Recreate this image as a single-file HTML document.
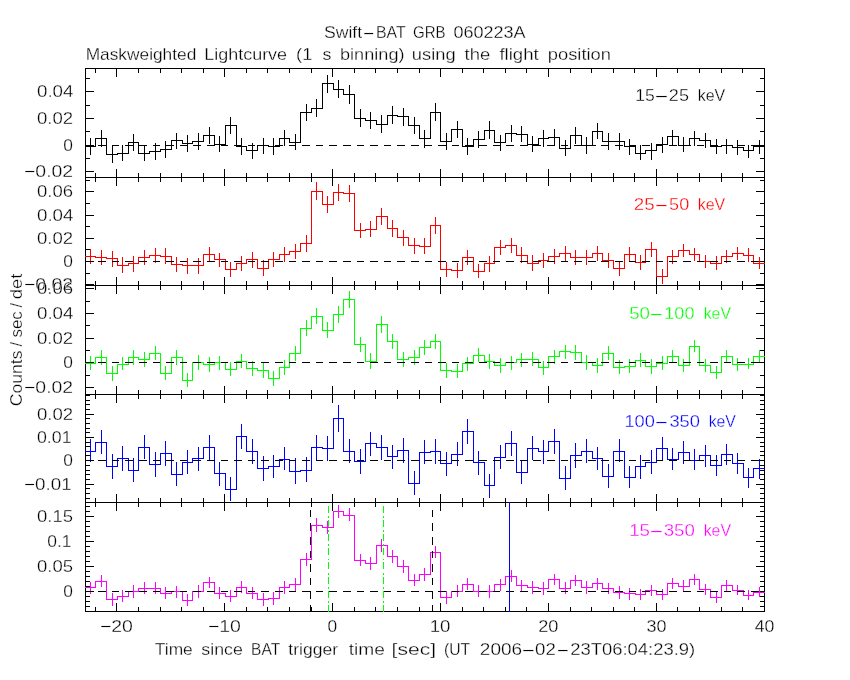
<!DOCTYPE html>
<html><head><meta charset="utf-8"><title>Swift-BAT GRB 060223A</title>
<style>
html,body{margin:0;padding:0;background:#fff;overflow:hidden;}
svg{display:block;}
text{font-family:'Liberation Sans', Arial, sans-serif;font-weight:400;stroke:#fff;stroke-width:0.3px;}
</style></head>
<body>
<svg width="850" height="680" viewBox="0 0 850 680" shape-rendering="crispEdges">
<rect x="0" y="0" width="850" height="680" fill="#fff"/>
<path fill="#000000" d="M85 68h1v544h-1zM764 68h1v544h-1zM85 68h680v1h-680zM85 177h680v1h-680zM85 285h680v1h-680zM85 394h680v1h-680zM85 502h680v1h-680zM85 611h680v1h-680zM95 69h1v4h-1zM95 173h1v4h-1zM116 69h1v8h-1zM116 169h1v8h-1zM138 69h1v4h-1zM138 173h1v4h-1zM160 69h1v4h-1zM160 173h1v4h-1zM181 69h1v4h-1zM181 173h1v4h-1zM203 69h1v4h-1zM203 173h1v4h-1zM224 69h1v8h-1zM224 169h1v8h-1zM246 69h1v4h-1zM246 173h1v4h-1zM267 69h1v4h-1zM267 173h1v4h-1zM289 69h1v4h-1zM289 173h1v4h-1zM311 69h1v4h-1zM311 173h1v4h-1zM332 69h1v8h-1zM332 169h1v8h-1zM354 69h1v4h-1zM354 173h1v4h-1zM375 69h1v4h-1zM375 173h1v4h-1zM397 69h1v4h-1zM397 173h1v4h-1zM419 69h1v4h-1zM419 173h1v4h-1zM440 69h1v8h-1zM440 169h1v8h-1zM462 69h1v4h-1zM462 173h1v4h-1zM483 69h1v4h-1zM483 173h1v4h-1zM505 69h1v4h-1zM505 173h1v4h-1zM526 69h1v4h-1zM526 173h1v4h-1zM548 69h1v8h-1zM548 169h1v8h-1zM570 69h1v4h-1zM570 173h1v4h-1zM591 69h1v4h-1zM591 173h1v4h-1zM613 69h1v4h-1zM613 173h1v4h-1zM634 69h1v4h-1zM634 173h1v4h-1zM656 69h1v8h-1zM656 169h1v8h-1zM677 69h1v4h-1zM677 173h1v4h-1zM699 69h1v4h-1zM699 173h1v4h-1zM721 69h1v4h-1zM721 173h1v4h-1zM742 69h1v4h-1zM742 173h1v4h-1zM95 178h1v4h-1zM95 281h1v4h-1zM116 178h1v8h-1zM116 277h1v8h-1zM138 178h1v4h-1zM138 281h1v4h-1zM160 178h1v4h-1zM160 281h1v4h-1zM181 178h1v4h-1zM181 281h1v4h-1zM203 178h1v4h-1zM203 281h1v4h-1zM224 178h1v8h-1zM224 277h1v8h-1zM246 178h1v4h-1zM246 281h1v4h-1zM267 178h1v4h-1zM267 281h1v4h-1zM289 178h1v4h-1zM289 281h1v4h-1zM311 178h1v4h-1zM311 281h1v4h-1zM332 178h1v8h-1zM332 277h1v8h-1zM354 178h1v4h-1zM354 281h1v4h-1zM375 178h1v4h-1zM375 281h1v4h-1zM397 178h1v4h-1zM397 281h1v4h-1zM419 178h1v4h-1zM419 281h1v4h-1zM440 178h1v8h-1zM440 277h1v8h-1zM462 178h1v4h-1zM462 281h1v4h-1zM483 178h1v4h-1zM483 281h1v4h-1zM505 178h1v4h-1zM505 281h1v4h-1zM526 178h1v4h-1zM526 281h1v4h-1zM548 178h1v8h-1zM548 277h1v8h-1zM570 178h1v4h-1zM570 281h1v4h-1zM591 178h1v4h-1zM591 281h1v4h-1zM613 178h1v4h-1zM613 281h1v4h-1zM634 178h1v4h-1zM634 281h1v4h-1zM656 178h1v8h-1zM656 277h1v8h-1zM677 178h1v4h-1zM677 281h1v4h-1zM699 178h1v4h-1zM699 281h1v4h-1zM721 178h1v4h-1zM721 281h1v4h-1zM742 178h1v4h-1zM742 281h1v4h-1zM95 286h1v4h-1zM95 390h1v4h-1zM116 286h1v8h-1zM116 386h1v8h-1zM138 286h1v4h-1zM138 390h1v4h-1zM160 286h1v4h-1zM160 390h1v4h-1zM181 286h1v4h-1zM181 390h1v4h-1zM203 286h1v4h-1zM203 390h1v4h-1zM224 286h1v8h-1zM224 386h1v8h-1zM246 286h1v4h-1zM246 390h1v4h-1zM267 286h1v4h-1zM267 390h1v4h-1zM289 286h1v4h-1zM289 390h1v4h-1zM311 286h1v4h-1zM311 390h1v4h-1zM332 286h1v8h-1zM332 386h1v8h-1zM354 286h1v4h-1zM354 390h1v4h-1zM375 286h1v4h-1zM375 390h1v4h-1zM397 286h1v4h-1zM397 390h1v4h-1zM419 286h1v4h-1zM419 390h1v4h-1zM440 286h1v8h-1zM440 386h1v8h-1zM462 286h1v4h-1zM462 390h1v4h-1zM483 286h1v4h-1zM483 390h1v4h-1zM505 286h1v4h-1zM505 390h1v4h-1zM526 286h1v4h-1zM526 390h1v4h-1zM548 286h1v8h-1zM548 386h1v8h-1zM570 286h1v4h-1zM570 390h1v4h-1zM591 286h1v4h-1zM591 390h1v4h-1zM613 286h1v4h-1zM613 390h1v4h-1zM634 286h1v4h-1zM634 390h1v4h-1zM656 286h1v8h-1zM656 386h1v8h-1zM677 286h1v4h-1zM677 390h1v4h-1zM699 286h1v4h-1zM699 390h1v4h-1zM721 286h1v4h-1zM721 390h1v4h-1zM742 286h1v4h-1zM742 390h1v4h-1zM95 395h1v4h-1zM95 498h1v4h-1zM116 395h1v8h-1zM116 494h1v8h-1zM138 395h1v4h-1zM138 498h1v4h-1zM160 395h1v4h-1zM160 498h1v4h-1zM181 395h1v4h-1zM181 498h1v4h-1zM203 395h1v4h-1zM203 498h1v4h-1zM224 395h1v8h-1zM224 494h1v8h-1zM246 395h1v4h-1zM246 498h1v4h-1zM267 395h1v4h-1zM267 498h1v4h-1zM289 395h1v4h-1zM289 498h1v4h-1zM311 395h1v4h-1zM311 498h1v4h-1zM332 395h1v8h-1zM332 494h1v8h-1zM354 395h1v4h-1zM354 498h1v4h-1zM375 395h1v4h-1zM375 498h1v4h-1zM397 395h1v4h-1zM397 498h1v4h-1zM419 395h1v4h-1zM419 498h1v4h-1zM440 395h1v8h-1zM440 494h1v8h-1zM462 395h1v4h-1zM462 498h1v4h-1zM483 395h1v4h-1zM483 498h1v4h-1zM505 395h1v4h-1zM505 498h1v4h-1zM526 395h1v4h-1zM526 498h1v4h-1zM548 395h1v8h-1zM548 494h1v8h-1zM570 395h1v4h-1zM570 498h1v4h-1zM591 395h1v4h-1zM591 498h1v4h-1zM613 395h1v4h-1zM613 498h1v4h-1zM634 395h1v4h-1zM634 498h1v4h-1zM656 395h1v8h-1zM656 494h1v8h-1zM677 395h1v4h-1zM677 498h1v4h-1zM699 395h1v4h-1zM699 498h1v4h-1zM721 395h1v4h-1zM721 498h1v4h-1zM742 395h1v4h-1zM742 498h1v4h-1zM95 503h1v4h-1zM95 607h1v4h-1zM116 503h1v8h-1zM116 603h1v8h-1zM138 503h1v4h-1zM138 607h1v4h-1zM160 503h1v4h-1zM160 607h1v4h-1zM181 503h1v4h-1zM181 607h1v4h-1zM203 503h1v4h-1zM203 607h1v4h-1zM224 503h1v8h-1zM224 603h1v8h-1zM246 503h1v4h-1zM246 607h1v4h-1zM267 503h1v4h-1zM267 607h1v4h-1zM289 503h1v4h-1zM289 607h1v4h-1zM311 503h1v4h-1zM311 607h1v4h-1zM332 503h1v8h-1zM332 603h1v8h-1zM354 503h1v4h-1zM354 607h1v4h-1zM375 503h1v4h-1zM375 607h1v4h-1zM397 503h1v4h-1zM397 607h1v4h-1zM419 503h1v4h-1zM419 607h1v4h-1zM440 503h1v8h-1zM440 603h1v8h-1zM462 503h1v4h-1zM462 607h1v4h-1zM483 503h1v4h-1zM483 607h1v4h-1zM505 503h1v4h-1zM505 607h1v4h-1zM526 503h1v4h-1zM526 607h1v4h-1zM548 503h1v8h-1zM548 603h1v8h-1zM570 503h1v4h-1zM570 607h1v4h-1zM591 503h1v4h-1zM591 607h1v4h-1zM613 503h1v4h-1zM613 607h1v4h-1zM634 503h1v4h-1zM634 607h1v4h-1zM656 503h1v8h-1zM656 603h1v8h-1zM677 503h1v4h-1zM677 607h1v4h-1zM699 503h1v4h-1zM699 607h1v4h-1zM721 503h1v4h-1zM721 607h1v4h-1zM742 503h1v4h-1zM742 607h1v4h-1zM86 171h8v1h-8zM756 171h8v1h-8zM86 158h4v1h-4zM760 158h4v1h-4zM86 145h8v1h-8zM756 145h8v1h-8zM86 131h4v1h-4zM760 131h4v1h-4zM86 118h8v1h-8zM756 118h8v1h-8zM86 105h4v1h-4zM760 105h4v1h-4zM86 91h8v1h-8zM756 91h8v1h-8zM86 78h4v1h-4zM760 78h4v1h-4zM86 284h8v1h-8zM756 284h8v1h-8zM86 273h4v1h-4zM760 273h4v1h-4zM86 261h8v1h-8zM756 261h8v1h-8zM86 249h4v1h-4zM760 249h4v1h-4zM86 238h8v1h-8zM756 238h8v1h-8zM86 226h4v1h-4zM760 226h4v1h-4zM86 215h8v1h-8zM756 215h8v1h-8zM86 203h4v1h-4zM760 203h4v1h-4zM86 191h8v1h-8zM756 191h8v1h-8zM86 180h4v1h-4zM760 180h4v1h-4zM86 387h8v1h-8zM756 387h8v1h-8zM86 375h4v1h-4zM760 375h4v1h-4zM86 362h8v1h-8zM756 362h8v1h-8zM86 350h4v1h-4zM760 350h4v1h-4zM86 338h8v1h-8zM756 338h8v1h-8zM86 325h4v1h-4zM760 325h4v1h-4zM86 313h8v1h-8zM756 313h8v1h-8zM86 301h4v1h-4zM760 301h4v1h-4zM86 288h8v1h-8zM756 288h8v1h-8zM86 498h4v1h-4zM760 498h4v1h-4zM86 493h4v1h-4zM760 493h4v1h-4zM86 488h4v1h-4zM760 488h4v1h-4zM86 484h8v1h-8zM756 484h8v1h-8zM86 479h4v1h-4zM760 479h4v1h-4zM86 474h4v1h-4zM760 474h4v1h-4zM86 470h4v1h-4zM760 470h4v1h-4zM86 465h4v1h-4zM760 465h4v1h-4zM86 460h8v1h-8zM756 460h8v1h-8zM86 455h4v1h-4zM760 455h4v1h-4zM86 451h4v1h-4zM760 451h4v1h-4zM86 446h4v1h-4zM760 446h4v1h-4zM86 442h4v1h-4zM760 442h4v1h-4zM86 437h8v1h-8zM756 437h8v1h-8zM86 432h4v1h-4zM760 432h4v1h-4zM86 428h4v1h-4zM760 428h4v1h-4zM86 423h4v1h-4zM760 423h4v1h-4zM86 418h4v1h-4zM760 418h4v1h-4zM86 414h8v1h-8zM756 414h8v1h-8zM86 409h4v1h-4zM760 409h4v1h-4zM86 404h4v1h-4zM760 404h4v1h-4zM86 400h4v1h-4zM760 400h4v1h-4zM86 395h4v1h-4zM760 395h4v1h-4zM86 606h4v1h-4zM760 606h4v1h-4zM86 601h4v1h-4zM760 601h4v1h-4zM86 596h4v1h-4zM760 596h4v1h-4zM86 591h8v1h-8zM756 591h8v1h-8zM86 586h4v1h-4zM760 586h4v1h-4zM86 581h4v1h-4zM760 581h4v1h-4zM86 576h4v1h-4zM760 576h4v1h-4zM86 571h4v1h-4zM760 571h4v1h-4zM86 566h8v1h-8zM756 566h8v1h-8zM86 561h4v1h-4zM760 561h4v1h-4zM86 556h4v1h-4zM760 556h4v1h-4zM86 551h4v1h-4zM760 551h4v1h-4zM86 546h4v1h-4zM760 546h4v1h-4zM86 541h8v1h-8zM756 541h8v1h-8zM86 536h4v1h-4zM760 536h4v1h-4zM86 531h4v1h-4zM760 531h4v1h-4zM86 526h4v1h-4zM760 526h4v1h-4zM86 521h4v1h-4zM760 521h4v1h-4zM86 516h8v1h-8zM756 516h8v1h-8zM86 511h4v1h-4zM760 511h4v1h-4zM86 506h4v1h-4zM760 506h4v1h-4z"/>
<path fill="#000000" d="M85 146h11v1h-11zM95 138h1v9h-1zM90 138h1v17h-1zM95 138h12v1h-12zM106 138h1v17h-1zM101 130h1v17h-1zM106 154h12v1h-12zM117 153h1v2h-1zM112 146h1v17h-1zM117 153h12v1h-12zM128 142h1v12h-1zM122 145h1v16h-1zM128 142h11v1h-11zM138 142h1v12h-1zM133 134h1v17h-1zM138 153h12v1h-12zM149 151h1v3h-1zM144 146h1v15h-1zM149 151h12v1h-12zM160 149h1v3h-1zM155 143h1v17h-1zM160 149h12v1h-12zM171 140h1v10h-1zM165 141h1v17h-1zM171 140h12v1h-12zM182 140h1v4h-1zM176 133h1v16h-1zM182 143h11v1h-11zM192 141h1v3h-1zM187 135h1v17h-1zM192 141h12v1h-12zM203 135h1v7h-1zM198 133h1v17h-1zM203 135h12v1h-12zM214 135h1v10h-1zM209 127h1v17h-1zM214 144h12v1h-12zM225 125h1v20h-1zM219 136h1v16h-1zM225 125h12v1h-12zM236 125h1v22h-1zM230 117h1v17h-1zM236 146h11v1h-11zM246 146h1v5h-1zM241 138h1v17h-1zM246 150h12v1h-12zM257 145h1v6h-1zM252 143h1v16h-1zM257 145h12v1h-12zM268 145h1v2h-1zM263 138h1v16h-1zM268 146h12v1h-12zM279 138h1v9h-1zM273 138h1v17h-1zM279 138h11v1h-11zM289 138h1v5h-1zM284 130h1v16h-1zM289 142h12v1h-12zM300 112h1v31h-1zM295 134h1v16h-1zM300 112h12v1h-12zM311 108h1v5h-1zM306 104h1v17h-1zM311 108h12v1h-12zM322 83h1v26h-1zM316 99h1v18h-1zM322 83h12v1h-12zM333 83h1v7h-1zM327 75h1v18h-1zM333 89h11v1h-11zM343 89h1v6h-1zM338 80h1v18h-1zM343 94h12v1h-12zM354 94h1v25h-1zM349 85h1v19h-1zM354 118h12v1h-12zM365 118h1v3h-1zM360 109h1v18h-1zM365 120h12v1h-12zM376 120h1v5h-1zM370 112h1v17h-1zM376 124h12v1h-12zM387 115h1v10h-1zM381 115h1v18h-1zM387 115h11v1h-11zM397 115h1v2h-1zM392 106h1v18h-1zM397 116h12v1h-12zM408 116h1v10h-1zM403 108h1v18h-1zM408 125h12v1h-12zM419 125h1v14h-1zM414 117h1v17h-1zM419 138h12v1h-12zM430 112h1v27h-1zM424 130h1v18h-1zM430 112h11v1h-11zM440 112h1v30h-1zM435 103h1v18h-1zM440 141h12v1h-12zM451 129h1v13h-1zM446 133h1v17h-1zM451 129h12v1h-12zM462 129h1v18h-1zM457 121h1v17h-1zM462 146h12v1h-12zM473 139h1v8h-1zM467 138h1v17h-1zM473 139h12v1h-12zM484 130h1v10h-1zM478 131h1v17h-1zM484 130h11v1h-11zM494 130h1v13h-1zM489 121h1v18h-1zM494 142h12v1h-12zM505 133h1v10h-1zM500 135h1v16h-1zM505 133h12v1h-12zM516 133h1v2h-1zM511 125h1v17h-1zM516 134h12v1h-12zM527 134h1v11h-1zM521 126h1v16h-1zM527 144h12v1h-12zM538 138h1v7h-1zM532 136h1v16h-1zM538 138h11v1h-11zM548 137h1v2h-1zM543 130h1v17h-1zM548 137h12v1h-12zM559 137h1v12h-1zM554 129h1v16h-1zM559 148h12v1h-12zM570 135h1v14h-1zM565 140h1v16h-1zM570 135h12v1h-12zM581 135h1v11h-1zM575 127h1v17h-1zM581 145h12v1h-12zM592 131h1v15h-1zM586 137h1v17h-1zM592 131h11v1h-11zM602 131h1v11h-1zM597 123h1v16h-1zM602 141h12v1h-12zM613 141h1v1h-1zM608 133h1v17h-1zM613 141h12v1h-12zM624 141h1v6h-1zM619 133h1v17h-1zM624 146h12v1h-12zM635 146h1v8h-1zM629 139h1v16h-1zM635 153h11v1h-11zM645 150h1v4h-1zM640 145h1v15h-1zM645 150h12v1h-12zM656 144h1v7h-1zM651 143h1v17h-1zM656 144h12v1h-12zM667 136h1v9h-1zM662 137h1v16h-1zM667 136h12v1h-12zM678 136h1v10h-1zM672 130h1v15h-1zM678 145h12v1h-12zM689 138h1v8h-1zM683 137h1v15h-1zM689 138h11v1h-11zM699 138h1v3h-1zM694 131h1v15h-1zM699 140h12v1h-12zM710 140h1v7h-1zM705 133h1v15h-1zM710 146h12v1h-12zM721 145h1v2h-1zM716 139h1v15h-1zM721 145h12v1h-12zM732 145h1v3h-1zM726 139h1v15h-1zM732 147h12v1h-12zM743 147h1v4h-1zM737 140h1v15h-1zM743 150h11v1h-11zM753 146h1v5h-1zM748 145h1v13h-1zM753 146h12v1h-12zM759 140h1v14h-1z"/>
<path fill="#ff0000" d="M85 256h11v1h-11zM95 256h1v2h-1zM90 249h1v15h-1zM95 257h12v1h-12zM106 257h1v2h-1zM101 250h1v15h-1zM106 258h12v1h-12zM117 258h1v8h-1zM112 251h1v16h-1zM117 265h12v1h-12zM128 263h1v3h-1zM122 257h1v16h-1zM128 263h11v1h-11zM138 257h1v7h-1zM133 256h1v16h-1zM138 257h12v1h-12zM149 255h1v3h-1zM144 250h1v15h-1zM149 255h12v1h-12zM160 255h1v2h-1zM155 248h1v15h-1zM160 256h12v1h-12zM171 256h1v9h-1zM165 248h1v16h-1zM171 264h12v1h-12zM182 264h1v2h-1zM176 257h1v15h-1zM182 265h11v1h-11zM192 265h1v1h-1zM187 258h1v16h-1zM192 265h12v1h-12zM203 254h1v12h-1zM198 258h1v16h-1zM203 254h12v1h-12zM214 254h1v6h-1zM209 247h1v14h-1zM214 259h12v1h-12zM225 259h1v11h-1zM219 253h1v14h-1zM225 269h12v1h-12zM236 263h1v7h-1zM230 262h1v15h-1zM236 263h11v1h-11zM246 259h1v5h-1zM241 256h1v15h-1zM246 259h12v1h-12zM257 259h1v10h-1zM252 252h1v16h-1zM257 268h12v1h-12zM268 259h1v10h-1zM263 260h1v16h-1zM268 259h12v1h-12zM279 254h1v6h-1zM273 252h1v15h-1zM279 254h11v1h-11zM289 251h1v4h-1zM284 247h1v15h-1zM289 251h12v1h-12zM300 243h1v9h-1zM295 244h1v15h-1zM300 243h12v1h-12zM311 191h1v53h-1zM306 235h1v17h-1zM311 191h12v1h-12zM322 191h1v14h-1zM316 182h1v18h-1zM322 204h12v1h-12zM333 192h1v13h-1zM327 196h1v17h-1zM333 192h11v1h-11zM343 192h1v2h-1zM338 184h1v17h-1zM343 193h12v1h-12zM354 193h1v38h-1zM349 185h1v17h-1zM354 230h12v1h-12zM365 229h1v2h-1zM360 223h1v15h-1zM365 229h12v1h-12zM376 216h1v14h-1zM370 221h1v16h-1zM376 216h12v1h-12zM387 216h1v13h-1zM381 208h1v17h-1zM387 228h11v1h-11zM397 228h1v10h-1zM392 220h1v17h-1zM397 237h12v1h-12zM408 237h1v9h-1zM403 230h1v16h-1zM408 245h12v1h-12zM419 245h1v2h-1zM414 238h1v16h-1zM419 246h12v1h-12zM430 225h1v22h-1zM424 238h1v16h-1zM430 225h11v1h-11zM440 225h1v45h-1zM435 217h1v17h-1zM440 269h12v1h-12zM451 269h1v2h-1zM446 262h1v15h-1zM451 270h12v1h-12zM462 257h1v14h-1zM457 263h1v15h-1zM462 257h12v1h-12zM473 257h1v15h-1zM467 250h1v15h-1zM473 271h12v1h-12zM484 263h1v9h-1zM478 264h1v14h-1zM484 263h11v1h-11zM494 247h1v17h-1zM489 256h1v16h-1zM494 247h12v1h-12zM505 245h1v3h-1zM500 240h1v15h-1zM505 245h12v1h-12zM516 245h1v11h-1zM511 238h1v15h-1zM516 255h12v1h-12zM527 255h1v9h-1zM521 247h1v16h-1zM527 263h12v1h-12zM538 260h1v4h-1zM532 255h1v16h-1zM538 260h11v1h-11zM548 256h1v5h-1zM543 253h1v15h-1zM548 256h12v1h-12zM559 253h1v4h-1zM554 249h1v15h-1zM559 253h12v1h-12zM570 253h1v5h-1zM565 246h1v15h-1zM570 257h12v1h-12zM581 257h1v1h-1zM575 250h1v15h-1zM581 257h12v1h-12zM592 253h1v5h-1zM586 250h1v15h-1zM592 253h11v1h-11zM602 253h1v8h-1zM597 246h1v15h-1zM602 260h12v1h-12zM613 260h1v9h-1zM608 253h1v15h-1zM613 268h12v1h-12zM624 254h1v15h-1zM619 262h1v14h-1zM624 254h12v1h-12zM635 254h1v9h-1zM629 247h1v14h-1zM635 262h11v1h-11zM645 249h1v14h-1zM640 255h1v15h-1zM645 249h12v1h-12zM656 249h1v28h-1zM651 242h1v15h-1zM656 276h12v1h-12zM667 256h1v21h-1zM662 269h1v15h-1zM667 256h12v1h-12zM678 250h1v7h-1zM672 250h1v14h-1zM678 250h12v1h-12zM689 250h1v5h-1zM683 244h1v13h-1zM689 254h11v1h-11zM699 254h1v8h-1zM694 248h1v13h-1zM699 261h12v1h-12zM710 261h1v3h-1zM705 255h1v13h-1zM710 263h12v1h-12zM721 256h1v8h-1zM716 256h1v14h-1zM721 256h12v1h-12zM732 253h1v4h-1zM726 250h1v13h-1zM732 253h12v1h-12zM743 253h1v3h-1zM737 247h1v13h-1zM743 255h11v1h-11zM753 255h1v9h-1zM748 248h1v14h-1zM753 263h12v1h-12zM759 257h1v12h-1z"/>
<path fill="#00ff00" d="M85 363h11v1h-11zM95 357h1v7h-1zM90 356h1v14h-1zM95 357h12v1h-12zM106 357h1v17h-1zM101 350h1v15h-1zM106 373h12v1h-12zM117 364h1v10h-1zM112 366h1v15h-1zM117 364h12v1h-12zM128 357h1v8h-1zM122 357h1v13h-1zM128 357h11v1h-11zM138 357h1v3h-1zM133 350h1v15h-1zM138 359h12v1h-12zM149 353h1v7h-1zM144 352h1v15h-1zM149 353h12v1h-12zM160 353h1v21h-1zM155 346h1v14h-1zM160 373h12v1h-12zM171 357h1v17h-1zM165 366h1v14h-1zM171 357h12v1h-12zM182 357h1v24h-1zM176 350h1v15h-1zM182 380h11v1h-11zM192 362h1v19h-1zM187 373h1v14h-1zM192 362h12v1h-12zM203 362h1v3h-1zM198 355h1v15h-1zM203 364h12v1h-12zM214 362h1v3h-1zM209 357h1v15h-1zM214 362h12v1h-12zM225 362h1v8h-1zM219 356h1v14h-1zM225 369h12v1h-12zM236 361h1v9h-1zM230 362h1v14h-1zM236 361h11v1h-11zM246 361h1v8h-1zM241 354h1v14h-1zM246 368h12v1h-12zM257 368h1v3h-1zM252 361h1v15h-1zM257 370h12v1h-12zM268 370h1v9h-1zM263 363h1v15h-1zM268 378h12v1h-12zM279 367h1v12h-1zM273 371h1v15h-1zM279 367h11v1h-11zM289 353h1v15h-1zM284 360h1v15h-1zM289 353h12v1h-12zM300 328h1v26h-1zM295 346h1v15h-1zM300 328h12v1h-12zM311 316h1v13h-1zM306 320h1v16h-1zM311 316h12v1h-12zM322 316h1v15h-1zM316 308h1v16h-1zM322 330h12v1h-12zM333 314h1v17h-1zM327 322h1v16h-1zM333 314h11v1h-11zM343 299h1v16h-1zM338 306h1v17h-1zM343 299h12v1h-12zM354 299h1v46h-1zM349 291h1v17h-1zM354 344h12v1h-12zM365 344h1v18h-1zM360 337h1v15h-1zM365 361h12v1h-12zM376 324h1v38h-1zM370 353h1v16h-1zM376 324h12v1h-12zM387 324h1v18h-1zM381 316h1v17h-1zM387 341h11v1h-11zM397 341h1v19h-1zM392 334h1v15h-1zM397 359h12v1h-12zM408 357h1v3h-1zM403 352h1v15h-1zM408 357h12v1h-12zM419 347h1v11h-1zM414 350h1v15h-1zM419 347h12v1h-12zM430 341h1v7h-1zM424 340h1v15h-1zM430 341h11v1h-11zM440 341h1v30h-1zM435 334h1v15h-1zM440 370h12v1h-12zM451 370h1v2h-1zM446 363h1v15h-1zM451 371h12v1h-12zM462 363h1v9h-1zM457 364h1v14h-1zM462 363h12v1h-12zM473 355h1v9h-1zM467 357h1v14h-1zM473 355h12v1h-12zM484 355h1v7h-1zM478 348h1v14h-1zM484 361h11v1h-11zM494 361h1v5h-1zM489 354h1v15h-1zM494 365h12v1h-12zM505 362h1v4h-1zM500 358h1v15h-1zM505 362h12v1h-12zM516 359h1v4h-1zM511 356h1v14h-1zM516 359h12v1h-12zM527 359h1v1h-1zM521 353h1v14h-1zM527 359h12v1h-12zM538 359h1v9h-1zM532 352h1v14h-1zM538 367h11v1h-11zM548 356h1v12h-1zM543 361h1v14h-1zM548 356h12v1h-12zM559 351h1v6h-1zM554 350h1v14h-1zM559 351h12v1h-12zM570 351h1v2h-1zM565 345h1v14h-1zM570 352h12v1h-12zM581 352h1v11h-1zM575 345h1v15h-1zM581 362h12v1h-12zM592 362h1v4h-1zM586 355h1v15h-1zM592 365h11v1h-11zM602 353h1v13h-1zM597 358h1v15h-1zM602 353h12v1h-12zM613 353h1v15h-1zM608 346h1v14h-1zM613 367h12v1h-12zM624 366h1v2h-1zM619 360h1v14h-1zM624 366h12v1h-12zM635 360h1v7h-1zM629 359h1v14h-1zM635 360h11v1h-11zM645 360h1v7h-1zM640 353h1v14h-1zM645 366h12v1h-12zM656 363h1v4h-1zM651 359h1v15h-1zM656 363h12v1h-12zM667 356h1v8h-1zM662 356h1v14h-1zM667 356h12v1h-12zM678 356h1v10h-1zM672 350h1v12h-1zM678 365h12v1h-12zM689 346h1v20h-1zM683 359h1v13h-1zM689 346h11v1h-11zM699 346h1v20h-1zM694 340h1v12h-1zM699 365h12v1h-12zM710 365h1v8h-1zM705 359h1v13h-1zM710 372h12v1h-12zM721 356h1v17h-1zM716 366h1v13h-1zM721 356h12v1h-12zM732 356h1v9h-1zM726 350h1v12h-1zM732 364h12v1h-12zM743 364h1v1h-1zM737 358h1v13h-1zM743 364h11v1h-11zM753 356h1v9h-1zM748 358h1v11h-1zM753 356h12v1h-12zM759 350h1v12h-1z"/>
<path fill="#0000ff" d="M85 451h11v1h-11zM95 442h1v10h-1zM90 439h1v23h-1zM95 442h12v1h-12zM106 442h1v25h-1zM101 430h1v24h-1zM106 466h12v1h-12zM117 458h1v9h-1zM112 454h1v25h-1zM117 458h12v1h-12zM128 458h1v13h-1zM122 446h1v25h-1zM128 470h11v1h-11zM138 447h1v24h-1zM133 458h1v24h-1zM138 447h12v1h-12zM149 447h1v18h-1zM144 435h1v24h-1zM149 464h12v1h-12zM160 453h1v12h-1zM155 452h1v25h-1zM160 453h12v1h-12zM171 453h1v22h-1zM165 441h1v25h-1zM171 474h12v1h-12zM182 462h1v13h-1zM176 462h1v24h-1zM182 462h11v1h-11zM192 458h1v5h-1zM187 450h1v24h-1zM192 458h12v1h-12zM203 447h1v12h-1zM198 447h1v24h-1zM203 447h12v1h-12zM214 447h1v27h-1zM209 435h1v25h-1zM214 473h12v1h-12zM225 473h1v17h-1zM219 462h1v24h-1zM225 489h12v1h-12zM236 436h1v54h-1zM230 477h1v24h-1zM236 436h11v1h-11zM246 436h1v16h-1zM241 424h1v25h-1zM246 451h12v1h-12zM257 451h1v18h-1zM252 439h1v25h-1zM257 468h12v1h-12zM268 466h1v3h-1zM263 456h1v25h-1zM268 466h12v1h-12zM279 459h1v8h-1zM273 455h1v23h-1zM279 459h11v1h-11zM289 459h1v13h-1zM284 447h1v23h-1zM289 471h12v1h-12zM300 470h1v2h-1zM295 458h1v26h-1zM300 470h12v1h-12zM311 447h1v24h-1zM306 457h1v25h-1zM311 447h12v1h-12zM322 447h1v2h-1zM316 435h1v25h-1zM322 448h12v1h-12zM333 418h1v31h-1zM327 436h1v25h-1zM333 418h11v1h-11zM343 418h1v34h-1zM338 405h1v27h-1zM343 451h12v1h-12zM354 451h1v11h-1zM349 439h1v24h-1zM354 461h12v1h-12zM365 443h1v19h-1zM360 449h1v25h-1zM365 443h12v1h-12zM376 443h1v5h-1zM370 432h1v24h-1zM376 447h12v1h-12zM387 447h1v10h-1zM381 435h1v25h-1zM387 456h11v1h-11zM397 450h1v7h-1zM392 445h1v24h-1zM397 450h12v1h-12zM408 450h1v34h-1zM403 438h1v25h-1zM408 483h12v1h-12zM419 452h1v32h-1zM414 471h1v24h-1zM419 452h12v1h-12zM430 451h1v2h-1zM424 440h1v24h-1zM430 451h11v1h-11zM440 451h1v13h-1zM435 439h1v25h-1zM440 463h12v1h-12zM451 454h1v10h-1zM446 452h1v24h-1zM451 454h12v1h-12zM462 431h1v24h-1zM457 442h1v24h-1zM462 431h12v1h-12zM473 431h1v32h-1zM467 419h1v25h-1zM473 462h12v1h-12zM484 462h1v24h-1zM478 451h1v24h-1zM484 485h11v1h-11zM494 457h1v29h-1zM489 474h1v24h-1zM494 457h12v1h-12zM505 443h1v15h-1zM500 445h1v24h-1zM505 443h12v1h-12zM516 443h1v30h-1zM511 431h1v25h-1zM516 472h12v1h-12zM527 448h1v25h-1zM521 461h1v23h-1zM527 448h12v1h-12zM538 448h1v4h-1zM532 436h1v24h-1zM538 451h11v1h-11zM548 441h1v11h-1zM543 440h1v24h-1zM548 441h12v1h-12zM559 441h1v38h-1zM554 429h1v25h-1zM559 478h12v1h-12zM570 455h1v24h-1zM565 466h1v24h-1zM570 455h12v1h-12zM581 451h1v5h-1zM575 443h1v25h-1zM581 451h12v1h-12zM592 451h1v8h-1zM586 439h1v24h-1zM592 458h11v1h-11zM602 458h1v19h-1zM597 447h1v23h-1zM602 476h12v1h-12zM613 451h1v26h-1zM608 464h1v24h-1zM613 451h12v1h-12zM624 451h1v27h-1zM619 439h1v23h-1zM624 477h12v1h-12zM635 466h1v12h-1zM629 466h1v22h-1zM635 466h11v1h-11zM645 462h1v5h-1zM640 455h1v24h-1zM645 462h12v1h-12zM656 448h1v15h-1zM651 450h1v24h-1zM656 448h12v1h-12zM667 448h1v12h-1zM662 437h1v23h-1zM667 459h12v1h-12zM678 452h1v8h-1zM672 448h1v22h-1zM678 452h12v1h-12zM689 452h1v9h-1zM683 441h1v23h-1zM689 460h11v1h-11zM699 455h1v6h-1zM694 449h1v21h-1zM699 455h12v1h-12zM710 455h1v11h-1zM705 445h1v22h-1zM710 465h12v1h-12zM721 454h1v12h-1zM716 455h1v21h-1zM721 454h12v1h-12zM732 454h1v10h-1zM726 444h1v21h-1zM732 463h12v1h-12zM743 463h1v15h-1zM737 453h1v21h-1zM743 477h11v1h-11zM753 468h1v10h-1zM748 468h1v20h-1zM753 468h12v1h-12zM759 459h1v20h-1z"/>
<path fill="#ff00ff" d="M85 587h11v1h-11zM95 581h1v7h-1zM90 582h1v12h-1zM95 581h12v1h-12zM106 581h1v19h-1zM101 575h1v12h-1zM106 599h12v1h-12zM117 596h1v4h-1zM112 593h1v13h-1zM117 596h12v1h-12zM128 591h1v6h-1zM122 590h1v12h-1zM128 591h11v1h-11zM138 588h1v4h-1zM133 585h1v13h-1zM138 588h12v1h-12zM149 588h1v1h-1zM144 582h1v12h-1zM149 588h12v1h-12zM160 588h1v6h-1zM155 582h1v12h-1zM160 593h12v1h-12zM171 591h1v3h-1zM165 587h1v12h-1zM171 591h12v1h-12zM182 591h1v10h-1zM176 586h1v12h-1zM182 600h11v1h-11zM192 591h1v10h-1zM187 594h1v12h-1zM192 591h12v1h-12zM203 582h1v10h-1zM198 585h1v13h-1zM203 582h12v1h-12zM214 582h1v12h-1zM209 577h1v11h-1zM214 593h12v1h-12zM225 593h1v4h-1zM219 587h1v12h-1zM225 596h12v1h-12zM236 587h1v10h-1zM230 590h1v12h-1zM236 587h11v1h-11zM246 587h1v7h-1zM241 581h1v12h-1zM246 593h12v1h-12zM257 593h1v7h-1zM252 587h1v12h-1zM257 599h12v1h-12zM268 598h1v2h-1zM263 593h1v13h-1zM268 598h12v1h-12zM279 587h1v12h-1zM273 592h1v13h-1zM279 587h11v1h-11zM289 584h1v4h-1zM284 581h1v13h-1zM289 584h12v1h-12zM300 559h1v26h-1zM295 578h1v13h-1zM300 559h12v1h-12zM311 525h1v35h-1zM306 553h1v13h-1zM311 525h12v1h-12zM322 525h1v3h-1zM316 518h1v14h-1zM322 527h12v1h-12zM333 511h1v17h-1zM327 521h1v13h-1zM333 511h11v1h-11zM343 511h1v5h-1zM338 505h1v13h-1zM343 515h12v1h-12zM354 515h1v46h-1zM349 508h1v13h-1zM354 560h12v1h-12zM365 560h1v4h-1zM360 554h1v12h-1zM365 563h12v1h-12zM376 545h1v19h-1zM370 557h1v13h-1zM376 545h12v1h-12zM387 545h1v12h-1zM381 539h1v13h-1zM387 556h11v1h-11zM397 556h1v11h-1zM392 550h1v13h-1zM397 566h12v1h-12zM408 566h1v15h-1zM403 560h1v13h-1zM408 580h12v1h-12zM419 574h1v7h-1zM414 574h1v12h-1zM419 574h12v1h-12zM430 552h1v23h-1zM424 568h1v13h-1zM430 552h11v1h-11zM440 552h1v46h-1zM435 546h1v12h-1zM440 597h12v1h-12zM451 591h1v7h-1zM446 591h1v13h-1zM451 591h12v1h-12zM462 584h1v8h-1zM457 585h1v12h-1zM462 584h12v1h-12zM473 584h1v8h-1zM467 578h1v12h-1zM473 591h12v1h-12zM484 591h1v1h-1zM478 585h1v12h-1zM484 591h11v1h-11zM494 584h1v8h-1zM489 585h1v13h-1zM494 584h12v1h-12zM505 576h1v9h-1zM500 579h1v12h-1zM505 576h12v1h-12zM516 576h1v10h-1zM511 570h1v12h-1zM516 585h12v1h-12zM527 585h1v3h-1zM521 580h1v11h-1zM527 587h12v1h-12zM538 587h1v2h-1zM532 581h1v13h-1zM538 588h11v1h-11zM548 579h1v10h-1zM543 582h1v13h-1zM548 579h12v1h-12zM559 579h1v10h-1zM554 574h1v11h-1zM559 588h12v1h-12zM570 580h1v9h-1zM565 582h1v12h-1zM570 580h12v1h-12zM581 580h1v8h-1zM575 575h1v11h-1zM581 587h12v1h-12zM592 583h1v5h-1zM586 581h1v13h-1zM592 583h11v1h-11zM602 583h1v6h-1zM597 578h1v12h-1zM602 588h12v1h-12zM613 588h1v5h-1zM608 583h1v11h-1zM613 592h12v1h-12zM624 592h1v2h-1zM619 586h1v13h-1zM624 593h12v1h-12zM635 593h1v2h-1zM629 588h1v12h-1zM635 594h11v1h-11zM645 590h1v5h-1zM640 589h1v11h-1zM645 590h12v1h-12zM656 590h1v5h-1zM651 585h1v11h-1zM656 594h12v1h-12zM667 583h1v12h-1zM662 589h1v11h-1zM667 583h12v1h-12zM678 583h1v4h-1zM672 578h1v11h-1zM678 586h12v1h-12zM689 579h1v8h-1zM683 580h1v11h-1zM689 579h11v1h-11zM699 579h1v11h-1zM694 574h1v11h-1zM699 589h12v1h-12zM710 589h1v9h-1zM705 584h1v11h-1zM710 597h12v1h-12zM721 585h1v13h-1zM716 591h1v12h-1zM721 585h12v1h-12zM732 585h1v6h-1zM726 580h1v11h-1zM732 590h12v1h-12zM743 590h1v6h-1zM737 585h1v10h-1zM743 595h11v1h-11zM753 592h1v4h-1zM748 590h1v10h-1zM753 592h12v1h-12zM759 587h1v10h-1z"/>
<path fill="#000000" d="M85 145h7v1h-7zM98 145h8v1h-8zM112 145h7v1h-7zM125 145h8v1h-8zM139 145h8v1h-8zM153 145h7v1h-7zM166 145h8v1h-8zM180 145h7v1h-7zM193 145h8v1h-8zM207 145h8v1h-8zM221 145h7v1h-7zM234 145h8v1h-8zM248 145h7v1h-7zM261 145h8v1h-8zM275 145h8v1h-8zM289 145h7v1h-7zM302 145h8v1h-8zM316 145h7v1h-7zM329 145h8v1h-8zM343 145h8v1h-8zM357 145h7v1h-7zM370 145h8v1h-8zM384 145h7v1h-7zM397 145h8v1h-8zM411 145h8v1h-8zM425 145h7v1h-7zM438 145h8v1h-8zM452 145h7v1h-7zM465 145h8v1h-8zM479 145h8v1h-8zM493 145h7v1h-7zM506 145h8v1h-8zM520 145h8v1h-8zM533 145h8v1h-8zM547 145h8v1h-8zM561 145h7v1h-7zM574 145h8v1h-8zM588 145h8v1h-8zM601 145h8v1h-8zM615 145h8v1h-8zM629 145h7v1h-7zM642 145h8v1h-8zM656 145h7v1h-7zM669 145h8v1h-8zM683 145h8v1h-8zM697 145h7v1h-7zM710 145h8v1h-8zM724 145h7v1h-7zM737 145h8v1h-8zM751 145h8v1h-8zM85 261h7v1h-7zM98 261h8v1h-8zM112 261h7v1h-7zM125 261h8v1h-8zM139 261h8v1h-8zM153 261h7v1h-7zM166 261h8v1h-8zM180 261h7v1h-7zM193 261h8v1h-8zM207 261h8v1h-8zM221 261h7v1h-7zM234 261h8v1h-8zM248 261h7v1h-7zM261 261h8v1h-8zM275 261h8v1h-8zM289 261h7v1h-7zM302 261h8v1h-8zM316 261h7v1h-7zM329 261h8v1h-8zM343 261h8v1h-8zM357 261h7v1h-7zM370 261h8v1h-8zM384 261h7v1h-7zM397 261h8v1h-8zM411 261h8v1h-8zM425 261h7v1h-7zM438 261h8v1h-8zM452 261h7v1h-7zM465 261h8v1h-8zM479 261h8v1h-8zM493 261h7v1h-7zM506 261h8v1h-8zM520 261h8v1h-8zM533 261h8v1h-8zM547 261h8v1h-8zM561 261h7v1h-7zM574 261h8v1h-8zM588 261h8v1h-8zM601 261h8v1h-8zM615 261h8v1h-8zM629 261h7v1h-7zM642 261h8v1h-8zM656 261h7v1h-7zM669 261h8v1h-8zM683 261h8v1h-8zM697 261h7v1h-7zM710 261h8v1h-8zM724 261h7v1h-7zM737 261h8v1h-8zM751 261h8v1h-8zM85 362h7v1h-7zM98 362h8v1h-8zM112 362h7v1h-7zM125 362h8v1h-8zM139 362h8v1h-8zM153 362h7v1h-7zM166 362h8v1h-8zM180 362h7v1h-7zM193 362h8v1h-8zM207 362h8v1h-8zM221 362h7v1h-7zM234 362h8v1h-8zM248 362h7v1h-7zM261 362h8v1h-8zM275 362h8v1h-8zM289 362h7v1h-7zM302 362h8v1h-8zM316 362h7v1h-7zM329 362h8v1h-8zM343 362h8v1h-8zM357 362h7v1h-7zM370 362h8v1h-8zM384 362h7v1h-7zM397 362h8v1h-8zM411 362h8v1h-8zM425 362h7v1h-7zM438 362h8v1h-8zM452 362h7v1h-7zM465 362h8v1h-8zM479 362h8v1h-8zM493 362h7v1h-7zM506 362h8v1h-8zM520 362h8v1h-8zM533 362h8v1h-8zM547 362h8v1h-8zM561 362h7v1h-7zM574 362h8v1h-8zM588 362h8v1h-8zM601 362h8v1h-8zM615 362h8v1h-8zM629 362h7v1h-7zM642 362h8v1h-8zM656 362h7v1h-7zM669 362h8v1h-8zM683 362h8v1h-8zM697 362h7v1h-7zM710 362h8v1h-8zM724 362h7v1h-7zM737 362h8v1h-8zM751 362h8v1h-8zM85 460h7v1h-7zM98 460h8v1h-8zM112 460h7v1h-7zM125 460h8v1h-8zM139 460h8v1h-8zM153 460h7v1h-7zM166 460h8v1h-8zM180 460h7v1h-7zM193 460h8v1h-8zM207 460h8v1h-8zM221 460h7v1h-7zM234 460h8v1h-8zM248 460h7v1h-7zM261 460h8v1h-8zM275 460h8v1h-8zM289 460h7v1h-7zM302 460h8v1h-8zM316 460h7v1h-7zM329 460h8v1h-8zM343 460h8v1h-8zM357 460h7v1h-7zM370 460h8v1h-8zM384 460h7v1h-7zM397 460h8v1h-8zM411 460h8v1h-8zM425 460h7v1h-7zM438 460h8v1h-8zM452 460h7v1h-7zM465 460h8v1h-8zM479 460h8v1h-8zM493 460h7v1h-7zM506 460h8v1h-8zM520 460h8v1h-8zM533 460h8v1h-8zM547 460h8v1h-8zM561 460h7v1h-7zM574 460h8v1h-8zM588 460h8v1h-8zM601 460h8v1h-8zM615 460h8v1h-8zM629 460h7v1h-7zM642 460h8v1h-8zM656 460h7v1h-7zM669 460h8v1h-8zM683 460h8v1h-8zM697 460h7v1h-7zM710 460h8v1h-8zM724 460h7v1h-7zM737 460h8v1h-8zM751 460h8v1h-8zM85 591h7v1h-7zM98 591h8v1h-8zM112 591h7v1h-7zM125 591h8v1h-8zM139 591h8v1h-8zM153 591h7v1h-7zM166 591h8v1h-8zM180 591h7v1h-7zM193 591h8v1h-8zM207 591h8v1h-8zM221 591h7v1h-7zM234 591h8v1h-8zM248 591h7v1h-7zM261 591h8v1h-8zM275 591h8v1h-8zM289 591h7v1h-7zM302 591h8v1h-8zM316 591h7v1h-7zM329 591h8v1h-8zM343 591h8v1h-8zM357 591h7v1h-7zM370 591h8v1h-8zM384 591h7v1h-7zM397 591h8v1h-8zM411 591h8v1h-8zM425 591h7v1h-7zM438 591h8v1h-8zM452 591h7v1h-7zM465 591h8v1h-8zM479 591h8v1h-8zM493 591h7v1h-7zM506 591h8v1h-8zM520 591h8v1h-8zM533 591h8v1h-8zM547 591h8v1h-8zM561 591h7v1h-7zM574 591h8v1h-8zM588 591h8v1h-8zM601 591h8v1h-8zM615 591h8v1h-8zM629 591h7v1h-7zM642 591h8v1h-8zM656 591h7v1h-7zM669 591h8v1h-8zM683 591h8v1h-8zM697 591h7v1h-7zM710 591h8v1h-8zM724 591h7v1h-7zM737 591h8v1h-8zM751 591h8v1h-8zM310 605h1v7h-1zM310 591h1v8h-1zM310 578h1v7h-1zM310 564h1v8h-1zM310 551h1v7h-1zM310 537h1v8h-1zM310 523h1v8h-1zM310 510h1v7h-1zM432 605h1v7h-1zM432 591h1v8h-1zM432 578h1v7h-1zM432 564h1v8h-1zM432 551h1v7h-1zM432 537h1v8h-1zM432 523h1v8h-1zM432 510h1v7h-1z"/>
<path fill="#00ff00" d="M328 605h1v7h-1zM328 601h1v2h-1zM328 591h1v7h-1zM328 587h1v2h-1zM328 577h1v7h-1zM328 573h1v2h-1zM328 562h1v7h-1zM328 559h1v1h-1zM328 548h1v7h-1zM328 544h1v2h-1zM328 534h1v7h-1zM328 530h1v2h-1zM328 520h1v7h-1zM328 516h1v2h-1zM328 506h1v7h-1zM383 605h1v7h-1zM383 601h1v2h-1zM383 591h1v7h-1zM383 587h1v2h-1zM383 577h1v7h-1zM383 573h1v2h-1zM383 562h1v7h-1zM383 559h1v1h-1zM383 548h1v7h-1zM383 544h1v2h-1zM383 534h1v7h-1zM383 530h1v2h-1zM383 520h1v7h-1zM383 516h1v2h-1zM383 506h1v7h-1z"/>
<path fill="#0000ff" d="M509 502h1v110h-1z"/>
<g shape-rendering="auto">
<text y="177" fill="#000" style="font-size:16.5px"><tspan x="24.04" textLength="49.13" lengthAdjust="spacingAndGlyphs">−0.02</tspan></text>
<text y="151" fill="#000" style="font-size:16.5px"><tspan x="63.22" textLength="9.66" lengthAdjust="spacingAndGlyphs">0</tspan></text>
<text y="124" fill="#000" style="font-size:16.5px"><tspan x="36.97" textLength="36.16" lengthAdjust="spacingAndGlyphs">0.02</tspan></text>
<text y="97" fill="#000" style="font-size:16.5px"><tspan x="36.97" textLength="36.48" lengthAdjust="spacingAndGlyphs">0.04</tspan></text>
<text y="290" fill="#000" style="font-size:16.5px"><tspan x="24.04" textLength="49.13" lengthAdjust="spacingAndGlyphs">−0.02</tspan></text>
<text y="267" fill="#000" style="font-size:16.5px"><tspan x="63.22" textLength="9.66" lengthAdjust="spacingAndGlyphs">0</tspan></text>
<text y="244" fill="#000" style="font-size:16.5px"><tspan x="36.97" textLength="36.16" lengthAdjust="spacingAndGlyphs">0.02</tspan></text>
<text y="221" fill="#000" style="font-size:16.5px"><tspan x="36.97" textLength="36.48" lengthAdjust="spacingAndGlyphs">0.04</tspan></text>
<text y="197" fill="#000" style="font-size:16.5px"><tspan x="36.98" textLength="36.04" lengthAdjust="spacingAndGlyphs">0.06</tspan></text>
<text y="393" fill="#000" style="font-size:16.5px"><tspan x="24.04" textLength="49.13" lengthAdjust="spacingAndGlyphs">−0.02</tspan></text>
<text y="368" fill="#000" style="font-size:16.5px"><tspan x="63.22" textLength="9.66" lengthAdjust="spacingAndGlyphs">0</tspan></text>
<text y="344" fill="#000" style="font-size:16.5px"><tspan x="36.97" textLength="36.16" lengthAdjust="spacingAndGlyphs">0.02</tspan></text>
<text y="319" fill="#000" style="font-size:16.5px"><tspan x="36.97" textLength="36.48" lengthAdjust="spacingAndGlyphs">0.04</tspan></text>
<text y="294" fill="#000" style="font-size:16.5px"><tspan x="36.98" textLength="36.04" lengthAdjust="spacingAndGlyphs">0.06</tspan></text>
<text y="490" fill="#000" style="font-size:16.5px"><tspan x="24.07" textLength="47.54" lengthAdjust="spacingAndGlyphs">−0.01</tspan></text>
<text y="466" fill="#000" style="font-size:16.5px"><tspan x="63.22" textLength="9.66" lengthAdjust="spacingAndGlyphs">0</tspan></text>
<text y="443" fill="#000" style="font-size:16.5px"><tspan x="37.01" textLength="34.56" lengthAdjust="spacingAndGlyphs">0.01</tspan></text>
<text y="420" fill="#000" style="font-size:16.5px"><tspan x="36.97" textLength="36.16" lengthAdjust="spacingAndGlyphs">0.02</tspan></text>
<text y="597" fill="#000" style="font-size:16.5px"><tspan x="63.22" textLength="9.66" lengthAdjust="spacingAndGlyphs">0</tspan></text>
<text y="572" fill="#000" style="font-size:16.5px"><tspan x="36.98" textLength="36.00" lengthAdjust="spacingAndGlyphs">0.05</tspan></text>
<text y="547" fill="#000" style="font-size:16.5px"><tspan x="47.32" textLength="24.23" lengthAdjust="spacingAndGlyphs">0.1</tspan></text>
<text y="522" fill="#000" style="font-size:16.5px"><tspan x="36.98" textLength="36.00" lengthAdjust="spacingAndGlyphs">0.15</tspan></text>
<text y="632" fill="#000" style="font-size:16.5px"><tspan x="99.94" textLength="33.02" lengthAdjust="spacingAndGlyphs">−20</tspan></text>
<text y="632" fill="#000" style="font-size:16.5px"><tspan x="207.94" textLength="33.02" lengthAdjust="spacingAndGlyphs">−10</tspan></text>
<text y="632" fill="#000" style="font-size:16.5px"><tspan x="327.57" textLength="9.66" lengthAdjust="spacingAndGlyphs">0</tspan></text>
<text y="632" fill="#000" style="font-size:16.5px"><tspan x="429.68" textLength="20.75" lengthAdjust="spacingAndGlyphs">10</tspan></text>
<text y="632" fill="#000" style="font-size:16.5px"><tspan x="538.19" textLength="20.22" lengthAdjust="spacingAndGlyphs">20</tspan></text>
<text y="632" fill="#000" style="font-size:16.5px"><tspan x="646.42" textLength="19.99" lengthAdjust="spacingAndGlyphs">30</tspan></text>
<text y="632" fill="#000" style="font-size:16.5px"><tspan x="754.69" textLength="19.70" lengthAdjust="spacingAndGlyphs">40</tspan></text>
<text y="38" fill="#000" style="font-size:17.0px"><tspan x="324.00" textLength="38.13" lengthAdjust="spacingAndGlyphs">Swift</tspan><tspan x="362.25" textLength="13.09" lengthAdjust="spacingAndGlyphs">-</tspan><tspan x="375.96" textLength="29.39" lengthAdjust="spacingAndGlyphs">BAT</tspan> <tspan x="413.05" textLength="32.44" lengthAdjust="spacingAndGlyphs">GRB</tspan> <tspan x="453.40" textLength="72.04" lengthAdjust="spacingAndGlyphs">060223A</tspan></text>
<text y="60" fill="#000" style="font-size:17.0px"><tspan x="85.68" textLength="110.64" lengthAdjust="spacingAndGlyphs">Maskweighted</tspan> <tspan x="204.23" textLength="82.87" lengthAdjust="spacingAndGlyphs">Lightcurve</tspan> <tspan x="296.07" textLength="16.22" lengthAdjust="spacingAndGlyphs">(1</tspan> <tspan x="322.50" textLength="8.94" lengthAdjust="spacingAndGlyphs">s</tspan> <tspan x="340.03" textLength="64.49" lengthAdjust="spacingAndGlyphs">binning)</tspan> <tspan x="411.81" textLength="43.77" lengthAdjust="spacingAndGlyphs">using</tspan> <tspan x="464.52" textLength="25.70" lengthAdjust="spacingAndGlyphs">the</tspan> <tspan x="499.44" textLength="39.30" lengthAdjust="spacingAndGlyphs">flight</tspan> <tspan x="547.82" textLength="63.17" lengthAdjust="spacingAndGlyphs">position</tspan></text>
<text y="655" fill="#000" style="font-size:17.0px"><tspan x="154.82" textLength="37.94" lengthAdjust="spacingAndGlyphs">Time</tspan> <tspan x="201.31" textLength="41.48" lengthAdjust="spacingAndGlyphs">since</tspan> <tspan x="251.09" textLength="28.75" lengthAdjust="spacingAndGlyphs">BAT</tspan> <tspan x="288.33" textLength="49.76" lengthAdjust="spacingAndGlyphs">trigger</tspan> <tspan x="348.71" textLength="36.14" lengthAdjust="spacingAndGlyphs">time</tspan> <tspan x="391.60" textLength="44.50" lengthAdjust="spacingAndGlyphs">[sec]</tspan> <tspan x="443.94" textLength="25.92" lengthAdjust="spacingAndGlyphs">(UT</tspan> <tspan x="479.84" textLength="42.29" lengthAdjust="spacingAndGlyphs">2006</tspan><tspan x="521.12" textLength="14.87" lengthAdjust="spacingAndGlyphs">-</tspan><tspan x="535.07" textLength="20.77" lengthAdjust="spacingAndGlyphs">02</tspan><tspan x="556.06" textLength="13.78" lengthAdjust="spacingAndGlyphs">-</tspan><tspan x="570.27" textLength="124.87" lengthAdjust="spacingAndGlyphs">23T06:04:23.9)</tspan></text>
<text y="101" fill="#000000" style="font-size:16.0px"><tspan x="635.37" textLength="19.47" lengthAdjust="spacingAndGlyphs">15</tspan><tspan x="653.74" textLength="15.41" lengthAdjust="spacingAndGlyphs">-</tspan><tspan x="668.89" textLength="20.06" lengthAdjust="spacingAndGlyphs">25</tspan> <tspan x="697.72" textLength="27.55" lengthAdjust="spacingAndGlyphs">keV</tspan></text>
<text y="210" fill="#ff0000" style="font-size:16.0px"><tspan x="633.86" textLength="20.83" lengthAdjust="spacingAndGlyphs">25</tspan><tspan x="654.02" textLength="14.87" lengthAdjust="spacingAndGlyphs">-</tspan><tspan x="669.08" textLength="20.13" lengthAdjust="spacingAndGlyphs">50</tspan> <tspan x="697.72" textLength="27.55" lengthAdjust="spacingAndGlyphs">keV</tspan></text>
<text y="319" fill="#00ff00" style="font-size:16.0px"><tspan x="629.15" textLength="20.78" lengthAdjust="spacingAndGlyphs">50</tspan><tspan x="648.88" textLength="15.14" lengthAdjust="spacingAndGlyphs">-</tspan><tspan x="664.33" textLength="30.08" lengthAdjust="spacingAndGlyphs">100</tspan> <tspan x="703.63" textLength="27.34" lengthAdjust="spacingAndGlyphs">keV</tspan></text>
<text y="427" fill="#0000ff" style="font-size:16.0px"><tspan x="624.41" textLength="30.40" lengthAdjust="spacingAndGlyphs">100</tspan><tspan x="653.92" textLength="14.87" lengthAdjust="spacingAndGlyphs">-</tspan><tspan x="669.40" textLength="30.51" lengthAdjust="spacingAndGlyphs">350</tspan> <tspan x="708.64" textLength="27.23" lengthAdjust="spacingAndGlyphs">keV</tspan></text>
<text y="536" fill="#ff00ff" style="font-size:16.0px"><tspan x="629.17" textLength="20.81" lengthAdjust="spacingAndGlyphs">15</tspan><tspan x="648.76" textLength="15.28" lengthAdjust="spacingAndGlyphs">-</tspan><tspan x="663.69" textLength="31.14" lengthAdjust="spacingAndGlyphs">350</tspan> <tspan x="703.63" textLength="27.34" lengthAdjust="spacingAndGlyphs">keV</tspan></text>
<text transform="translate(22,0) rotate(-90)" y="0" fill="#000" style="font-size:16.5px"><tspan x="-406.19" textLength="55.63" lengthAdjust="spacingAndGlyphs">Counts</tspan><tspan x="-346.39">/</tspan><tspan x="-337.57" textLength="26.42" lengthAdjust="spacingAndGlyphs">sec</tspan><tspan x="-307.39">/</tspan><tspan x="-299.38" textLength="25.82" lengthAdjust="spacingAndGlyphs">det</tspan></text>
</g>
</svg>
</body></html>
